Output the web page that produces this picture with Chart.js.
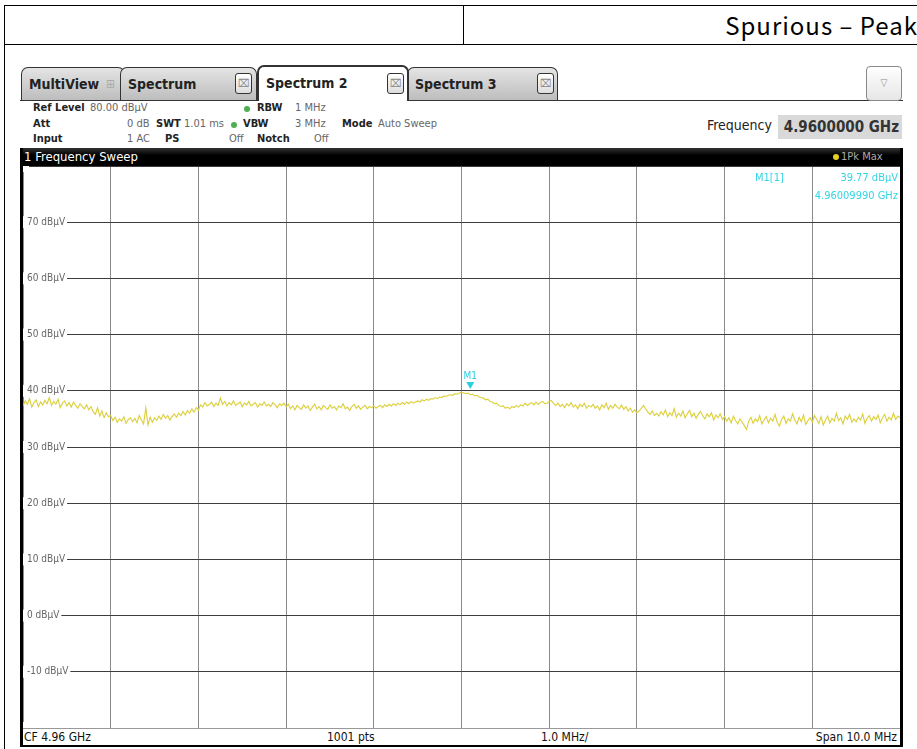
<!DOCTYPE html>
<html>
<head>
<meta charset="utf-8">
<script src="https://cdn.jsdelivr.net/npm/chart.js@4/dist/chart.umd.min.js"></script>
<style>
  body { margin: 0; width: 917px; height: 749px; overflow: hidden; position: relative; background: #fff;
         font-family: "DejaVu Sans Condensed", "Liberation Sans Narrow", sans-serif; }
  .abs { position: absolute; white-space: nowrap; }
  .line { position: absolute; background: #000; }
  .tab { position: absolute; top: 67px; height: 33px; border: 1px solid #333; border-bottom: none;
         border-radius: 7px 7px 0 0; background: linear-gradient(#e4e4e4, #bdbdbd); box-sizing: border-box; }
  .tab.active { top: 65px; height: 36px; background: #fff; border: 2px solid #333; border-bottom: none; }
  .tab b { position: absolute; left: 7px; top: 8px; font-size: 14px; color: #222; }
  .close { position: absolute; top: 5px; width: 17px; height: 21px; border: 1px solid #333; border-radius: 3px;
           background: linear-gradient(#fff, #ddd); font-size: 11px; color: #888; text-align: center; line-height: 20px; box-sizing: border-box; }
  .info { position: absolute; font-size: 11px; color: #666; white-space: nowrap; }
  .info.k { color: #222; font-weight: bold; }
  .dot { position: absolute; width: 6px; height: 6px; border-radius: 3px; background: #4caf50; }
  .cyan { color: #34d4e4; font-size: 11px; }
</style>
</head>
<body>

<!-- outer report table -->
<div class="line" style="left:4px;top:5px;width:913px;height:1px"></div>
<div class="line" style="left:4px;top:44px;width:913px;height:1px"></div>
<div class="line" style="left:4px;top:5px;width:1px;height:744px"></div>
<div class="line" style="left:463px;top:5px;width:1px;height:40px"></div>
<div class="abs" id="title" style="right:-1px;top:7px;font-size:24px;letter-spacing:1px;font-family:'Noto Sans CJK KR','Liberation Sans',sans-serif;color:#000">Spurious – Peak</div>

<!-- tab bar -->
<div class="line" style="left:20px;top:100px;width:883px;height:1px;background:#333"></div>
<div class="tab" style="left:21px;width:104px"><b>MultiView</b><span class="abs" style="left:84px;top:9px;color:#aaa;font-size:12px">⊞</span></div>
<div class="tab" style="left:120px;width:137px"><b>Spectrum</b><div class="close" style="left:114px">⌧</div></div>
<div class="tab" style="left:407px;width:151px"><b>Spectrum 3</b><div class="close" style="left:129px">⌧</div></div>
<div class="tab active" style="left:257px;width:152px"><b>Spectrum 2</b><div class="close" style="left:128px;top:6px">⌧</div></div>
<div class="abs" style="left:866px;top:66px;width:36px;height:35px;border:1px solid #888;border-radius:4px;box-sizing:border-box;background:linear-gradient(#fff,#e6e6e6);text-align:center;line-height:32px;font-size:10px;color:#888">▽</div>

<!-- setting info -->
<div class="info k" style="left:33px;top:101px">Ref Level</div>
<div class="info" style="left:90px;top:101px">80.00 dBµV</div>
<div class="dot" style="left:244px;top:106px"></div>
<div class="info k" style="left:257px;top:101px">RBW</div>
<div class="info" style="left:295px;top:101px">1 MHz</div>

<div class="info k" style="left:33px;top:117px">Att</div>
<div class="info" style="left:127px;top:117px">0 dB</div>
<div class="info k" style="left:156px;top:117px">SWT</div>
<div class="info" style="left:184px;top:117px">1.01 ms</div>
<div class="dot" style="left:231px;top:122px"></div>
<div class="info k" style="left:243px;top:117px">VBW</div>
<div class="info" style="left:295px;top:117px">3 MHz</div>
<div class="info k" style="left:342px;top:117px">Mode</div>
<div class="info" style="left:378px;top:117px">Auto Sweep</div>

<div class="info k" style="left:33px;top:132px">Input</div>
<div class="info" style="left:127px;top:132px">1 AC</div>
<div class="info k" style="left:165px;top:132px">PS</div>
<div class="info" style="left:229px;top:132px">Off</div>
<div class="info k" style="left:257px;top:132px">Notch</div>
<div class="info" style="left:314px;top:132px">Off</div>

<div class="abs" style="left:707px;top:117px;font-size:14px;color:#222">Frequency</div>
<div class="abs" style="left:778px;top:115px;width:124px;height:24px;background:#d9d9d9;font-size:15px;font-weight:bold;color:#333;text-align:right;line-height:24px;padding-right:3px;box-sizing:border-box">4.9600000 GHz</div>

<!-- window title bar -->
<div class="abs" style="left:20px;top:148px;width:883px;height:18px;background:linear-gradient(#333,#000 40%)"></div>
<div class="abs" style="left:24px;top:149px;font-size:13px;color:#fff">1 Frequency Sweep</div>
<div class="abs" style="left:833px;top:154px;width:6px;height:6px;border-radius:3px;background:#e6d020"></div>
<div class="abs" style="left:841px;top:150px;font-size:11px;color:#aaa">1Pk Max</div>

<!-- diagram -->
<div class="abs" style="left:23px;top:166px;width:877px;height:562px">
  <canvas id="sweep"></canvas>
</div>
<div class="line" style="left:20px;top:148px;width:3px;height:599px"></div>
<div class="line" style="left:900px;top:148px;width:3px;height:599px"></div>
<div class="line" style="left:20px;top:745px;width:883px;height:2px"></div>
<div class="line" style="left:23px;top:728px;width:877px;height:1px;background:#999"></div>

<!-- marker readout -->
<div class="abs cyan" style="left:755px;top:171px">M1[1]</div>
<div class="abs cyan" style="right:19px;top:171px">39.77 dBµV</div>
<div class="abs cyan" style="right:19px;top:189px">4.96009990 GHz</div>

<!-- footer -->
<div class="abs" style="left:24px;top:730px;font-size:12px;color:#111">CF 4.96 GHz</div>
<div class="abs" style="left:327px;top:730px;font-size:12px;color:#111">1001 pts</div>
<div class="abs" style="left:541px;top:730px;font-size:12px;color:#111">1.0 MHz/</div>
<div class="abs" style="right:20px;top:730px;font-size:12px;color:#111">Span 10.0 MHz</div>

<script>
// sweep settings (MHz)
var startMHz = 4955;
var stopMHz = 4965;

// level axis (dBµV)
var yMin = -20;
var yMax = 80;
var yGrid = [-20, -10, 0, 10, 20, 30, 40, 50, 60, 70, 80];
var yLabels = ["", "-10 dBµV", "0 dBµV", "10 dBµV", "20 dBµV", "30 dBµV", "40 dBµV", "50 dBµV", "60 dBµV", "70 dBµV", ""];

// marker M1
var markerMHz = 4960.0999;
var markerLevel = 39.77;

// 1Pk Max trace (dBµV), evenly spaced over the span
var trace = [
  37.3, 38.2, 37.6, 38.6, 37.1, 37.9, 38.4, 37.2, 38.0, 37.5,
  38.3, 37.7, 38.8, 37.4, 38.1, 37.6, 38.5, 37.0, 37.8, 38.2,
  37.3, 37.9, 37.1, 38.0, 37.4, 36.9, 37.7, 37.2, 36.8, 37.5,
  36.6, 37.2, 36.3, 35.8, 37.0, 35.5, 36.4, 35.2, 36.1, 35.4,
  35.6, 34.7, 35.3, 34.4, 35.0, 34.6, 35.4, 34.2, 34.9, 35.2,
  34.5, 35.1, 34.3, 35.6, 34.8, 34.1, 37.0, 33.9, 35.3, 34.4,
  35.2, 34.7, 35.5, 34.9, 35.8, 35.1, 35.6, 34.8, 35.4, 35.9,
  35.3, 36.0, 35.6, 36.3, 35.7, 36.5, 36.0, 36.8, 36.2, 37.0,
  36.6, 37.5, 37.1, 37.9, 37.3, 37.6, 38.0, 37.2, 37.8, 37.4,
  38.7, 37.6, 38.1, 37.3, 37.9, 37.5, 38.2, 37.4, 37.7, 38.0,
  37.2, 37.8, 37.5, 38.1, 37.3, 37.6, 37.9, 37.1, 37.7, 37.4,
  38.0, 37.3, 37.6, 37.2, 37.9, 37.5, 37.0, 37.7, 37.4, 37.8,
  37.2, 37.6, 36.8, 37.3, 36.6, 37.4, 37.0, 36.7, 37.5, 36.9,
  37.3, 36.5, 37.1, 37.6, 36.8, 37.2, 36.6, 37.4, 37.0, 36.7,
  37.5, 36.9, 37.2, 36.6, 37.3, 37.0, 37.7, 36.8, 37.1, 36.5,
  37.2, 37.6, 36.9, 37.3, 36.7, 37.1, 37.4, 36.8, 37.2, 37.0,
  37.3, 36.9, 37.2, 37.4, 37.0, 37.5, 37.2, 37.6, 37.3, 37.7,
  37.4, 37.8, 37.5, 37.9, 37.6, 38.0, 37.7, 38.1, 37.8, 38.0,
  38.2, 38.0, 38.4, 38.2, 38.5, 38.3, 38.6, 38.5, 38.8, 38.6,
  38.9, 38.8, 39.1, 39.0, 39.2, 39.3, 39.2, 39.5, 39.4, 39.6,
  39.77, 39.6, 39.5, 39.6, 39.3, 39.4, 39.1, 39.2, 38.9, 38.8,
  38.7, 38.4, 38.5, 38.1, 38.0, 37.7, 37.8, 37.4, 37.2, 37.3,
  36.9, 37.1, 36.8, 37.2, 37.0, 37.4, 37.1, 37.5, 37.3, 37.8,
  37.4, 37.7, 37.9, 37.5, 38.0, 37.6, 37.9, 38.1, 37.7, 37.8,
  38.1, 38.3, 37.7, 37.4, 37.8, 37.2, 37.6, 37.0, 37.7, 37.3,
  37.9, 37.1, 37.5, 36.8, 37.6, 37.2, 37.8, 36.9, 37.4, 37.1,
  37.6, 36.9, 37.3, 36.6, 37.5, 37.0, 37.8, 36.7, 37.4, 36.9,
  37.6, 37.1, 36.8, 37.5, 36.7, 37.2, 36.4, 36.9, 36.2, 36.6,
  36.1, 36.4, 36.9, 37.4, 36.8, 36.2, 35.8, 36.4, 35.6, 36.0,
  35.5, 36.3, 35.7, 36.6, 35.4, 36.1, 35.6, 36.8, 35.3, 36.0,
  35.5, 36.4, 35.2, 35.9, 36.5, 35.4, 36.0, 35.1, 35.8, 36.3,
  35.6, 35.0, 35.9, 35.4, 36.1, 34.8, 35.7, 35.2, 35.9, 34.9,
  35.4, 34.6, 35.2, 34.3, 35.5, 34.7, 34.1, 35.0, 34.4, 33.8,
  33.1, 34.6, 35.3, 34.2, 35.0, 34.5, 35.6, 34.1, 34.8, 35.4,
  34.3, 35.1, 34.6, 35.8, 34.4, 33.7, 34.9, 35.5, 34.2, 35.0,
  34.6, 35.9, 34.8, 34.1, 35.3, 34.5, 35.7, 34.0, 34.7, 35.2,
  34.4, 35.6, 34.9, 34.2, 35.4, 33.9, 34.8, 35.5, 34.3, 35.1,
  34.6, 36.0, 34.7, 35.2, 34.1, 35.5, 34.9, 35.8, 34.4, 35.0,
  34.5, 35.3, 34.8, 35.9, 34.2, 35.1, 35.6, 34.6, 35.4, 34.9,
  35.7, 34.3, 35.2, 35.8, 34.6, 35.3, 34.8, 36.0, 34.9, 35.5,
  35.2
];

var stepMHz = (stopMHz - startMHz) / (trace.length - 1);
var points = trace.map(function (v, i) {
  return { x: startMHz + i * stepMHz, y: v };
});

//draws the M1 triangle and its label on top of the trace
var markerPlugin = {
  id: "marker",
  afterDatasetsDraw: function (chart) {
    var ctx = chart.ctx;
    var px = chart.scales.x.getPixelForValue(markerMHz);
    var py = chart.scales.y.getPixelForValue(markerLevel);
    ctx.save();
    ctx.fillStyle = "#2ccfe0";
    ctx.beginPath();
    ctx.moveTo(px - 4, py - 10);
    ctx.lineTo(px + 4, py - 10);
    ctx.lineTo(px, py - 3);
    ctx.closePath();
    ctx.fill();
    ctx.font = "10px 'DejaVu Sans Condensed', sans-serif";
    ctx.textAlign = "center";
    ctx.textBaseline = "bottom";
    ctx.fillText("M1", px, py - 11);
    ctx.restore();
  }
};

new Chart(document.getElementById("sweep"), {
  type: "line",
  data: {
    datasets: [{
      label: "1Pk Max",
      data: points,
      borderColor: "#dbcf3a",
      borderWidth: 1.1,
      pointRadius: 0,
      tension: 0
    }]
  },
  options: {
    responsive: true,
    maintainAspectRatio: false,
    animation: false,
    layout: { padding: 0 },
    plugins: {
      legend: { display: false },
      tooltip: { enabled: false }
    },
    scales: {
      x: {
        type: "linear",
        min: startMHz,
        max: stopMHz,
        border: { display: false },
        grid: { color: "#8a8a8a", lineWidth: 1, drawTicks: false },
        ticks: { display: false, stepSize: 1 }
      },
      y: {
        min: yMin,
        max: yMax,
        border: { display: false },
        afterBuildTicks: function (scale) {
          scale.ticks = yGrid.map(function (v) { return { value: v }; });
        },
        //labels sit inside the plot, so the axis takes no room
        afterFit: function (scale) {
          scale.width = 0;
          scale.paddingTop = 0;
          scale.paddingBottom = 0;
        },
        grid: { color: "#3c3c3c", lineWidth: 1, drawTicks: false },
        ticks: {
          mirror: true,
          crossAlign: "near",
          padding: 4,
          color: "#666",
          font: { size: 10, family: "'DejaVu Sans Condensed', sans-serif" },
          showLabelBackdrop: true,
          backdropColor: "#fff",
          backdropPadding: { left: 5, right: 2, top: 0, bottom: 0 },
          callback: function (value) {
            return yLabels[yGrid.indexOf(value)];
          }
        }
      }
    }
  },
  plugins: [markerPlugin]
});
</script>
</body>
</html>
